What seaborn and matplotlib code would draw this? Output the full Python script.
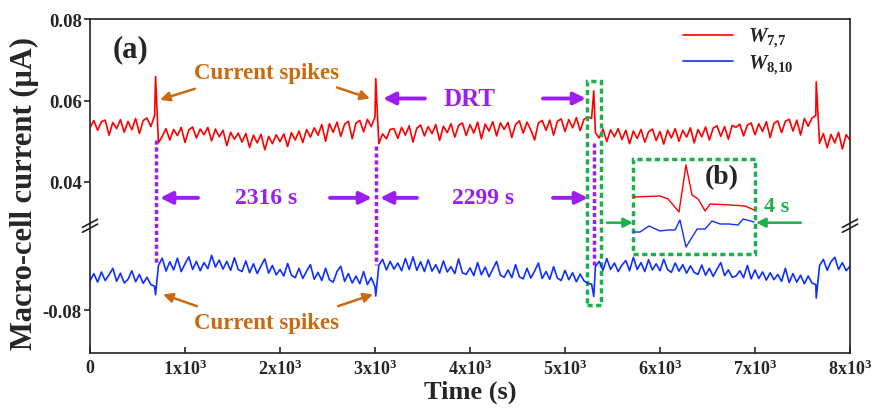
import numpy as np
import pandas as pd
import seaborn as sns
import matplotlib.pyplot as plt
from matplotlib.patches import Rectangle

# macro-cell current readings, one every 40 s (uA)
time_s = np.arange(0, 8001, 40)
w77 = [
    0.0533, 0.0551, 0.0527, 0.0548, 0.0552, 0.0515, 0.0546, 0.0531, 0.0553, 0.0522,
    0.0549, 0.0528, 0.0556, 0.0519, 0.0551, 0.0557, 0.0536, 0.0563, 0.0496, 0.0512,
    0.0531, 0.0503, 0.0529, 0.0514, 0.0534, 0.0497, 0.0528, 0.0535, 0.0508, 0.0530,
    0.0516, 0.0534, 0.0501, 0.0530, 0.0511, 0.0527, 0.0489, 0.0522, 0.0505, 0.0520,
    0.0498, 0.0519, 0.0485, 0.0515, 0.0496, 0.0517, 0.0479, 0.0512, 0.0494, 0.0516,
    0.0499, 0.0518, 0.0487, 0.0521, 0.0503, 0.0525, 0.0497, 0.0529, 0.0510, 0.0533,
    0.0515, 0.0541, 0.0500, 0.0543, 0.0522, 0.0547, 0.0512, 0.0542, 0.0549, 0.0506,
    0.0545, 0.0551, 0.0523, 0.0554, 0.0536, 0.0560, 0.0494, 0.0518, 0.0506, 0.0529,
    0.0531, 0.0507, 0.0534, 0.0515, 0.0538, 0.0498, 0.0532, 0.0540, 0.0513, 0.0536,
    0.0519, 0.0541, 0.0502, 0.0537, 0.0521, 0.0543, 0.0510, 0.0539, 0.0545, 0.0514,
    0.0541, 0.0520, 0.0547, 0.0506, 0.0542, 0.0525, 0.0548, 0.0513, 0.0545, 0.0529,
    0.0546, 0.0509, 0.0541, 0.0550, 0.0520, 0.0547, 0.0528, 0.0503, 0.0545, 0.0551,
    0.0527, 0.0552, 0.0515, 0.0549, 0.0555, 0.0524, 0.0553, 0.0533, 0.0558, 0.0526,
    0.0554, 0.0560, 0.0556, 0.0521, 0.0508, 0.0530, 0.0499, 0.0528, 0.0511, 0.0531,
    0.0504, 0.0527, 0.0494, 0.0525, 0.0507, 0.0529, 0.0498, 0.0523, 0.0530, 0.0502,
    0.0524, 0.0493, 0.0527, 0.0508, 0.0531, 0.0500, 0.0527, 0.0510, 0.0533, 0.0496,
    0.0529, 0.0511, 0.0535, 0.0503, 0.0532, 0.0538, 0.0512, 0.0536, 0.0505, 0.0539,
    0.0534, 0.0542, 0.0513, 0.0540, 0.0545, 0.0516, 0.0543, 0.0524, 0.0548, 0.0509,
    0.0544, 0.0550, 0.0521, 0.0549, 0.0554, 0.0525, 0.0552, 0.0515, 0.0556, 0.0537,
    0.0557, 0.0563, 0.0495, 0.0519, 0.0484, 0.0517, 0.0496, 0.0522, 0.0481, 0.0516,
    0.0503,
]
w810 = [
    -0.0728, -0.0710, -0.0731, -0.0706, -0.0727, -0.0713, -0.0697, -0.0729, -0.0709, -0.0733,
    -0.0724, -0.0703, -0.0730, -0.0712, -0.0734, -0.0719, -0.0737, -0.0741, -0.0690, -0.0672,
    -0.0704, -0.0681, -0.0701, -0.0672, -0.0705, -0.0686, -0.0669, -0.0700, -0.0680, -0.0703,
    -0.0683, -0.0698, -0.0665, -0.0694, -0.0677, -0.0699, -0.0680, -0.0702, -0.0671, -0.0700,
    -0.0705, -0.0679, -0.0708, -0.0686, -0.0710, -0.0691, -0.0674, -0.0709, -0.0690, -0.0713,
    -0.0700, -0.0716, -0.0685, -0.0714, -0.0720, -0.0697, -0.0722, -0.0704, -0.0688, -0.0724,
    -0.0707, -0.0727, -0.0697, -0.0725, -0.0731, -0.0705, -0.0692, -0.0729, -0.0710, -0.0733,
    -0.0716, -0.0735, -0.0705, -0.0737, -0.0720, -0.0742, -0.0690, -0.0675, -0.0701, -0.0680,
    -0.0699, -0.0684, -0.0703, -0.0673, -0.0700, -0.0669, -0.0702, -0.0681, -0.0705, -0.0676,
    -0.0704, -0.0688, -0.0709, -0.0679, -0.0706, -0.0693, -0.0710, -0.0674, -0.0708, -0.0712,
    -0.0696, -0.0715, -0.0683, -0.0713, -0.0694, -0.0718, -0.0699, -0.0680, -0.0714, -0.0719,
    -0.0701, -0.0720, -0.0688, -0.0718, -0.0723, -0.0697, -0.0721, -0.0704, -0.0684, -0.0722,
    -0.0705, -0.0724, -0.0693, -0.0721, -0.0727, -0.0702, -0.0725, -0.0708, -0.0730, -0.0711,
    -0.0728, -0.0734, -0.0736, -0.0693, -0.0680, -0.0702, -0.0673, -0.0700, -0.0684, -0.0705,
    -0.0689, -0.0678, -0.0703, -0.0670, -0.0700, -0.0683, -0.0705, -0.0676, -0.0701, -0.0686,
    -0.0703, -0.0675, -0.0700, -0.0707, -0.0684, -0.0704, -0.0688, -0.0709, -0.0691, -0.0707,
    -0.0712, -0.0689, -0.0714, -0.0697, -0.0717, -0.0699, -0.0683, -0.0715, -0.0701, -0.0719,
    -0.0716, -0.0703, -0.0720, -0.0690, -0.0723, -0.0701, -0.0722, -0.0706, -0.0726, -0.0708,
    -0.0725, -0.0712, -0.0729, -0.0697, -0.0732, -0.0710, -0.0731, -0.0714, -0.0735, -0.0716,
    -0.0733, -0.0737, -0.0690, -0.0675, -0.0702, -0.0681, -0.0670, -0.0700, -0.0683, -0.0703,
    -0.0692,
]

# current spikes
spike_t = [690, 3008, 5303, 7645]
spike_w77 = [0.0659, 0.0654, 0.0624, 0.0646]
spike_w810 = [-0.0762, -0.0765, -0.0766, -0.0770]

# zoom (b): 4 s around the DRT spike, relative units
inset_t77 = [0, 0.89, 1.16, 1.52, 1.75, 1.95, 2.15, 2.38, 2.55, 3.21, 3.70, 4.0]
inset_w77 = [58, 59, 56, 43, 90, 60, 56, 44, 51, 50, 49, 45]
inset_t810 = [0, 0.23, 0.53, 0.89, 1.16, 1.39, 1.55, 1.75, 2.12, 2.38, 2.61, 2.88, 3.17, 3.47, 3.64, 4.0]
inset_w810 = [23, 23, 29, 24, 25, 25, 35, 8, 26, 26, 34, 31, 31, 30, 36, 33]

xticks = [0, 1000, 2000, 3000, 4000, 5000, 6000, 7000, 8000]
xticklabels = ['0'] + [r'%dx10$^{\mathbf{3}}$' % k for k in range(1, 9)]

red = '#FF0000'
blue = '#1030FF'
purple = '#9B1EF5'
orange = '#CC6A12'
green = '#1EAF4E'

sns.set_style('ticks')
plt.rcParams['font.family'] = ['Liberation Serif', 'DejaVu Serif']
plt.rcParams['font.weight'] = 'bold'
plt.rcParams['mathtext.fontset'] = 'custom'
plt.rcParams['mathtext.rm'] = 'Liberation Serif:bold'
plt.rcParams['mathtext.bf'] = 'Liberation Serif:bold'
plt.rcParams['mathtext.it'] = 'Liberation Serif:bold:italic'

df77 = pd.DataFrame({'t': np.concatenate([time_s, spike_t]),
                     'i': np.concatenate([w77, spike_w77])}).sort_values('t')
df810 = pd.DataFrame({'t': np.concatenate([time_s, spike_t]),
                      'i': np.concatenate([w810, spike_w810])}).sort_values('t')

fig, (ax, ax2) = plt.subplots(2, 1, sharex=True, figsize=(8.74, 4.10), dpi=100,
                              gridspec_kw={'height_ratios': [0.05, 0.032]})
fig.subplots_adjust(left=0.103, right=0.9725, top=0.951, bottom=0.1366, hspace=0)
ax2.patch.set_visible(False)

sns.lineplot(data=df77, x='t', y='i', ax=ax, color=red, lw=1.2, sort=False)
sns.lineplot(data=df810, x='t', y='i', ax=ax2, color=blue, lw=1.2, sort=False)

ax.set_xlim(0, 8000)
ax.set_ylim(0.03, 0.08)
ax2.set_ylim(-0.0905, -0.0585)
ax.set_yticks([0.04, 0.06, 0.08])
ax.set_yticklabels(['0.04', '0.06', '0.08'])
ax2.set_yticks([-0.08])
ax2.set_yticklabels(['-0.08'])
ax2.set_xticks(xticks)
ax2.set_xticklabels(xticklabels)
ax.set_xlabel('')
ax.set_ylabel('')
ax2.set_xlabel('Time (s)', fontsize=19, fontweight='bold', labelpad=1)
ax2.set_ylabel('')
fig.text(0.028, 0.527, 'Macro-cell current (\u03bcA)', rotation=90, fontsize=22,
         fontweight='bold', ha='center', va='center')

for a in (ax, ax2):
    for s in a.spines.values():
        s.set_linewidth(1.2)
        s.set_color('#222222')
    a.tick_params(axis='y', direction='out', length=4, width=1.2, labelsize=13.5, pad=2)
ax.spines['bottom'].set_visible(False)
ax2.spines['top'].set_visible(False)
ax.tick_params(axis='x', bottom=False)
ax2.tick_params(axis='x', direction='in', length=4, width=1.2, labelsize=13, pad=4, top=False)

# axis break marks
for xa in (0, 1):
    for dy in (-0.012, 0.012):
        ax.plot([xa - 0.01, xa + 0.01], [dy - 0.035, dy + 0.005], transform=ax.transAxes,
                color='#222222', lw=1.2, clip_on=False)

# legend
h77 = ax.get_lines()[0]
h810 = ax2.get_lines()[0]
ax.legend([h77, h810], [r'$\mathit{W_{7{,}7}}$', r'$\mathit{W_{8{,}10}}$'], loc='upper left',
          bbox_to_anchor=(0.775, 0.985), frameon=False, fontsize=15, handlelength=2.4,
          handletextpad=0.7, labelspacing=0.15, borderaxespad=0, borderpad=0.2)

ax.text(240, 0.0727, '(a)', fontsize=22, fontweight='bold', ha='left', va='center')

# current spikes labels
ax.text(1863, 0.0668, 'Current spikes', color=orange, fontsize=16.5, fontweight='bold',
        ha='center', va='center')
ax2.text(1863, -0.0829, 'Current spikes', color=orange, fontsize=16.5, fontweight='bold',
         ha='center', va='center')
orange_arrows = [(ax, (737, 0.0602), (1105, 0.0629)), (ax, (2947, 0.0605), (2600, 0.0632)),
                 (ax2, (768, -0.0761), (1126, -0.0790)), (ax2, (2979, -0.0761), (2611, -0.0790))]
for a, head, tail in orange_arrows:
    a.annotate('', xy=head, xytext=tail, annotation_clip=False,
               arrowprops=dict(arrowstyle='-|>', color=orange, lw=1.8, mutation_scale=14,
                               shrinkA=0, shrinkB=0))

# DRT and intervals
ax.text(4000, 0.0605, 'DRT', color=purple, fontsize=18, fontweight='bold', ha='center', va='center')
ax.text(1853, 0.0361, '2316 s', color=purple, fontsize=17, fontweight='bold', ha='center', va='center')
ax.text(4137, 0.0361, '2299 s', color=purple, fontsize=17, fontweight='bold', ha='center', va='center')
purple_arrows = [((3084, 0.0605), (3526, 0.0605)), ((5221, 0.0605), (4768, 0.0605)),
                 ((737, 0.0361), (1137, 0.0361)), ((2968, 0.0361), (2526, 0.0361)),
                 ((3053, 0.0361), (3442, 0.0361)), ((5242, 0.0361), (4874, 0.0361))]
for head, tail in purple_arrows:
    ax.annotate('', xy=head, xytext=tail, annotation_clip=False,
                arrowprops=dict(arrowstyle='-|>', color=purple, lw=2.8, mutation_scale=18,
                                shrinkA=0, shrinkB=0))

for t, y0, y1 in [(690, 0.0502, 0.0202), (3008, 0.0488, 0.0195), (5303, 0.0495, 0.0197)]:
    ax.plot([t, t], [y0, y1], color=purple, lw=2.5, ls=(0, (1.2, 0.8)), clip_on=False)

# green boxes
ax.add_patch(Rectangle((5232, 0.0097), 147, 0.0552, fill=False, ec=green, lw=2.5,
                       ls=(0, (1.5, 1)), clip_on=False, zorder=5))
ax.add_patch(Rectangle((5716, 0.0224), 1284, 0.0232, fill=False, ec=green, lw=2.5,
                       ls=(0, (1.5, 1)), clip_on=False, zorder=5))
for head, tail in [((5716, 0.030), (5442, 0.030)), ((7011, 0.030), (7484, 0.030))]:
    ax.annotate('', xy=head, xytext=tail, annotation_clip=False,
                arrowprops=dict(arrowstyle='-|>', color=green, lw=1.8, mutation_scale=14,
                                shrinkA=0, shrinkB=0))
ax.text(6653, 0.0414, '(b)', fontsize=20, fontweight='bold', ha='center', va='center')
ax.text(7232, 0.0341, '4 s', color=green, fontsize=16, fontweight='bold', ha='center', va='center')

axin = fig.add_axes([633 / 874, (410 - 256) / 410, 122 / 874, 95 / 410])
sns.lineplot(x=inset_t77, y=inset_w77, ax=axin, color=red, lw=1.0, sort=False)
sns.lineplot(x=inset_t810, y=inset_w810, ax=axin, color=blue, lw=1.0, sort=False)
axin.set_xlim(0, 4.03)
axin.set_ylim(0, 95)
axin.axis('off')

plt.savefig('out.png', dpi=100)
plt.close()
